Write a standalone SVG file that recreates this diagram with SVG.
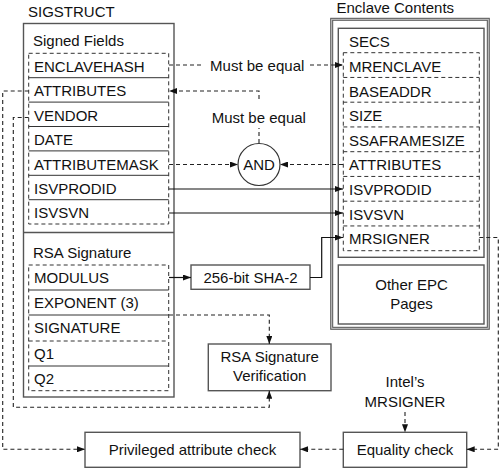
<svg xmlns="http://www.w3.org/2000/svg" width="501" height="470" viewBox="0 0 501 470">
<defs>
<style>
text{font-family:"Liberation Sans",Arial,Helvetica,sans-serif;font-size:15px;fill:#111}
.m{text-anchor:middle}
.box{fill:#fff;stroke:#555;stroke-width:1.4}
.dbox{fill:none;stroke:#333;stroke-width:1;stroke-dasharray:4,3}
.div{stroke:#333;stroke-width:1}
.ddiv{stroke:#333;stroke-width:1;stroke-dasharray:4,3}
.c{fill:none;stroke:#111;stroke-width:1.2}
.cd{fill:none;stroke:#222;stroke-width:1.1;stroke-dasharray:4,3}
</style>
<marker id="a" markerWidth="8" markerHeight="6" refX="8" refY="3" orient="auto" markerUnits="userSpaceOnUse"><path d="M0,0 L8,3 L0,6 z" fill="#111"/></marker>
</defs>

<g id="sigstruct">
<text x="28" y="17.3">SIGSTRUCT</text>
<rect class="box" x="23.5" y="23.5" width="150.5" height="373.5"/>
<line class="div" x1="23.5" y1="232.5" x2="174" y2="232.5" style="stroke:#555;stroke-width:1.4"/>
</g>

<g id="signed-fields">
<text x="33" y="46">Signed Fields</text>
<rect class="dbox" x="28.7" y="53.3" width="140" height="170.7"/>
<line class="div" x1="28.7" y1="77.7" x2="168.7" y2="77.7"/>
<line class="div" x1="28.7" y1="102.1" x2="168.7" y2="102.1"/>
<line class="div" x1="28.7" y1="126.5" x2="168.7" y2="126.5"/>
<line class="div" x1="28.7" y1="150.9" x2="168.7" y2="150.9"/>
<line class="div" x1="28.7" y1="175.3" x2="168.7" y2="175.3"/>
<line class="div" x1="28.7" y1="199.7" x2="168.7" y2="199.7"/>
<text x="34" y="72">ENCLAVEHASH</text>
<text x="34" y="96.3">ATTRIBUTES</text>
<text x="34" y="120.7">VENDOR</text>
<text x="34" y="145.1">DATE</text>
<text x="34" y="169.5">ATTRIBUTEMASK</text>
<text x="34" y="193.9">ISVPRODID</text>
<text x="34" y="218.3">ISVSVN</text>
</g>

<g id="rsa-signature">
<text x="33" y="257.5">RSA Signature</text>
<rect class="dbox" x="28.7" y="265" width="140" height="125.7"/>
<line class="div" x1="28.7" y1="290" x2="168.7" y2="290"/>
<line class="div" x1="28.7" y1="315" x2="168.7" y2="315"/>
<line class="ddiv" x1="28.7" y1="341" x2="168.7" y2="341"/>
<line class="div" x1="28.7" y1="366" x2="168.7" y2="366"/>
<text x="34" y="283.3">MODULUS</text>
<text x="34" y="307.8">EXPONENT (3)</text>
<text x="34" y="333">SIGNATURE</text>
<text x="34" y="359">Q1</text>
<text x="34" y="384">Q2</text>
</g>

<g id="enclave-contents">
<text x="336.5" y="12.5">Enclave Contents</text>
<rect x="331.7" y="19.3" width="156.6" height="309" fill="#fff" stroke="#555" stroke-width="3"/>
<rect x="331.7" y="19.3" width="156.6" height="309" fill="none" stroke="#ccc" stroke-width="1"/>
</g>

<g id="secs">
<rect class="box" x="338.3" y="28.3" width="145.7" height="229"/>
<text x="349" y="46.7">SECS</text>
<rect class="dbox" x="343.3" y="52.7" width="136" height="198"/>
<line class="ddiv" x1="343.3" y1="77.45" x2="479.3" y2="77.45"/>
<line class="ddiv" x1="343.3" y1="102.2" x2="479.3" y2="102.2"/>
<line class="ddiv" x1="343.3" y1="126.95" x2="479.3" y2="126.95"/>
<line class="ddiv" x1="343.3" y1="151.7" x2="479.3" y2="151.7"/>
<line class="ddiv" x1="343.3" y1="176.45" x2="479.3" y2="176.45"/>
<line class="ddiv" x1="343.3" y1="201.2" x2="479.3" y2="201.2"/>
<line class="ddiv" x1="343.3" y1="225.95" x2="479.3" y2="225.95"/>
<text x="349" y="72">MRENCLAVE</text>
<text x="349" y="96.6">BASEADDR</text>
<text x="349" y="121.3">SIZE</text>
<text x="349" y="146">SSAFRAMESIZE</text>
<text x="349" y="170.2">ATTRIBUTES</text>
<text x="349" y="194.8">ISVPRODID</text>
<text x="349" y="219.5">ISVSVN</text>
<text x="349" y="244">MRSIGNER</text>
</g>

<g id="other-epc">
<rect class="box" x="338.3" y="265" width="145.7" height="59"/>
<text class="m" x="411.5" y="290">Other EPC</text>
<text class="m" x="411.5" y="308.5">Pages</text>
</g>

<g id="and">
<circle cx="259" cy="164.5" r="21" fill="#fff" stroke="#333" stroke-width="1.2"/>
<text class="m" x="259" y="169.5">AND</text>
</g>

<g id="sha">
<rect class="box" x="191" y="265" width="119" height="24.3"/>
<text class="m" x="250.5" y="282.7">256-bit SHA-2</text>
</g>

<g id="rsa-verify">
<rect class="box" x="208.3" y="344" width="122.7" height="46.7"/>
<text class="m" x="269.7" y="362.3">RSA Signature</text>
<text class="m" x="269.7" y="380.7">Verification</text>
</g>

<g id="privileged">
<rect class="box" x="85" y="432.3" width="215" height="35"/>
<text class="m" x="192.5" y="454.5">Privileged attribute check</text>
</g>

<g id="equality">
<rect class="box" x="343.3" y="432.3" width="123.4" height="35"/>
<text class="m" x="405" y="454.5">Equality check</text>
</g>

<g id="intel-mrsigner">
<text class="m" x="405" y="387.3">Intel’s</text>
<text class="m" x="405" y="406.7">MRSIGNER</text>
</g>

<g id="connectors">
<path class="cd" d="M169,65 H204"/>
<path class="cd" d="M310,65 H343" marker-end="url(#a)"/>
<text class="m" x="257.2" y="70.7">Must be equal</text>
<path class="cd" d="M259,143 V128"/>
<path class="cd" d="M259,99 V91 H169" marker-end="url(#a)"/>
<text class="m" x="258.8" y="123.3">Must be equal</text>
<path class="cd" d="M169,164.5 H238" marker-end="url(#a)"/>
<path class="cd" d="M343,164.5 H280" marker-end="url(#a)"/>
<path class="c" d="M169,189 H343" marker-end="url(#a)"/>
<path class="c" d="M169,213 H343" marker-end="url(#a)"/>
<path class="c" d="M169,277.5 H191" marker-end="url(#a)"/>
<path class="c" d="M310,277.5 H321.7 V237.5 H343" marker-end="url(#a)"/>
<path class="cd" d="M169,315 H269.3 V344" marker-end="url(#a)"/>
<path class="cd" d="M28.7,117.5 H13.3 V407.3 H269.3 V390.7" marker-end="url(#a)"/>
<path class="cd" d="M28.7,91 H2.7 V449.3 H85" marker-end="url(#a)"/>
<path class="cd" d="M479.3,237.5 H498.3 V449.3 H466.7" marker-end="url(#a)"/>
<path class="cd" d="M343.3,449.3 H300" marker-end="url(#a)"/>
<path class="cd" d="M405,412 V432.3" marker-end="url(#a)"/>
</g>
</svg>
